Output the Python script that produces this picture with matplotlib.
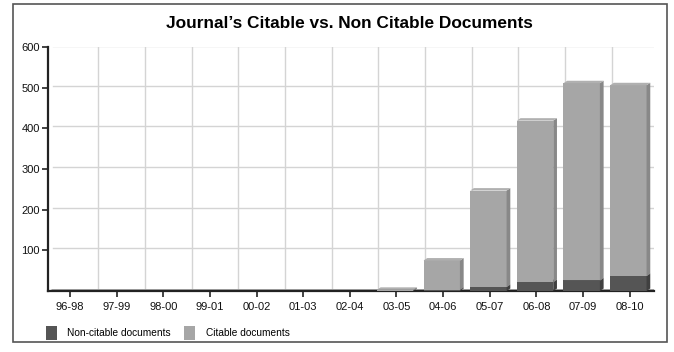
import matplotlib
matplotlib.use("Agg")
import matplotlib.pyplot as plt
from matplotlib.patches import Rectangle, Polygon
import numpy as np

periods = ["96-98", "97-99", "98-00", "99-01", "00-02", "01-03", "02-04",
           "03-05", "04-06", "05-07", "06-08", "07-09", "08-10"]
non_citable = [0, 0, 0, 0, 0, 0, 0, 1, 3, 10, 22, 26, 37]
citable = [0, 0, 0, 0, 0, 0, 0, 2, 72, 237, 397, 485, 469]

plt.rcParams['font.family'] = ['Liberation Sans Narrow', 'Liberation Sans', 'DejaVu Sans']

fig = plt.figure(figsize=(6.74, 3.52), dpi=100)

# outer frame
fig.patches.append(Rectangle((13 / 674, 1 - 342 / 352), 654 / 674, 338 / 352,
                             transform=fig.transFigure, fill=False,
                             edgecolor="#555555", linewidth=1.2))

fig.text(0.518, 1 - 23 / 352, "Journal\u2019s Citable vs. Non Citable Documents",
         ha="center", va="center", fontsize=12.4, fontweight="bold",
         family=['Liberation Sans', 'DejaVu Sans'])

ax = fig.add_axes([48 / 674, 1 - 291 / 352, 606 / 674, 244 / 352])
n = len(periods)
ax.set_xlim(-0.47, n - 1 + 0.52)
ax.set_ylim(0, 600)

gdx, gdy = 0.11, 5
bdx, bdy = 0.08, 6

# back grid (shifted for the 3D look)
for yv in range(100, 601, 100):
    ax.plot([-0.47 + gdx, n - 1 + 0.52], [yv + gdy - 3 if yv == 600 else yv + gdy] * 2,
            color="#d4d4d4", lw=1, zorder=0)
for i in range(n):
    xv = i + 0.5 + gdx
    ax.plot([xv, xv], [gdy, 600], color="#d4d4d4", lw=1, zorder=0)

# floor
ax.add_patch(Polygon([(-0.47, 0), (n - 1 + 0.52, 0), (n - 1 + 0.52 + 0.0, bdy),
                      (-0.47 + bdx, bdy)], closed=True, facecolor="#e8e8e8",
                     edgecolor="#999999", lw=0.6, zorder=1))

def bar3d(xc, y0, h, face, side, top):
    if h <= 0:
        return
    x0 = xc - 0.42
    x1 = xc + 0.36
    y1 = y0 + h
    ax.add_patch(Rectangle((x0, y0), x1 - x0, h, facecolor=face, edgecolor="none", zorder=3))
    ax.add_patch(Polygon([(x1, y0), (x1 + bdx, y0 + bdy), (x1 + bdx, y1 + bdy), (x1, y1)],
                         closed=True, facecolor=side, edgecolor="none", zorder=3))
    ax.add_patch(Polygon([(x0, y1), (x0 + bdx, y1 + bdy), (x1 + bdx, y1 + bdy), (x1, y1)],
                         closed=True, facecolor=top, edgecolor="none", zorder=3))

for i in range(n):
    bar3d(i, 0, non_citable[i], "#555555", "#404040", "#606060")
    bar3d(i, non_citable[i], citable[i], "#a6a6a6", "#888888", "#b0b0b0")

ax.set_xticks(range(n))
ax.set_xticklabels(periods)
ax.set_yticks(range(100, 601, 100))
ax.tick_params(axis="both", labelsize=8, color="#222222", length=4, width=1.2,
               labelcolor="#111111")
ax.tick_params(axis="x", pad=4)
ax.tick_params(axis="y", pad=2)
for s in ["top", "right"]:
    ax.spines[s].set_visible(False)
ax.spines["left"].set_linewidth(1.6)
ax.spines["bottom"].set_linewidth(1.6)
ax.spines["left"].set_color("#222222")
ax.spines["bottom"].set_color("#222222")
ax.patch.set_alpha(0)

# legend
fig.patches.append(Rectangle((46 / 674, 1 - 340 / 352), 11 / 674, 14 / 352,
                             transform=fig.transFigure, facecolor="#555555", edgecolor="none"))
fig.text(67 / 674, 1 - 333 / 352, "Non-citable documents", fontsize=7.3, va="center")
fig.patches.append(Rectangle((184 / 674, 1 - 340 / 352), 11 / 674, 14 / 352,
                             transform=fig.transFigure, facecolor="#a6a6a6", edgecolor="none"))
fig.text(206 / 674, 1 - 333 / 352, "Citable documents", fontsize=7.3, va="center")

fig.savefig("out.png", dpi=100)
